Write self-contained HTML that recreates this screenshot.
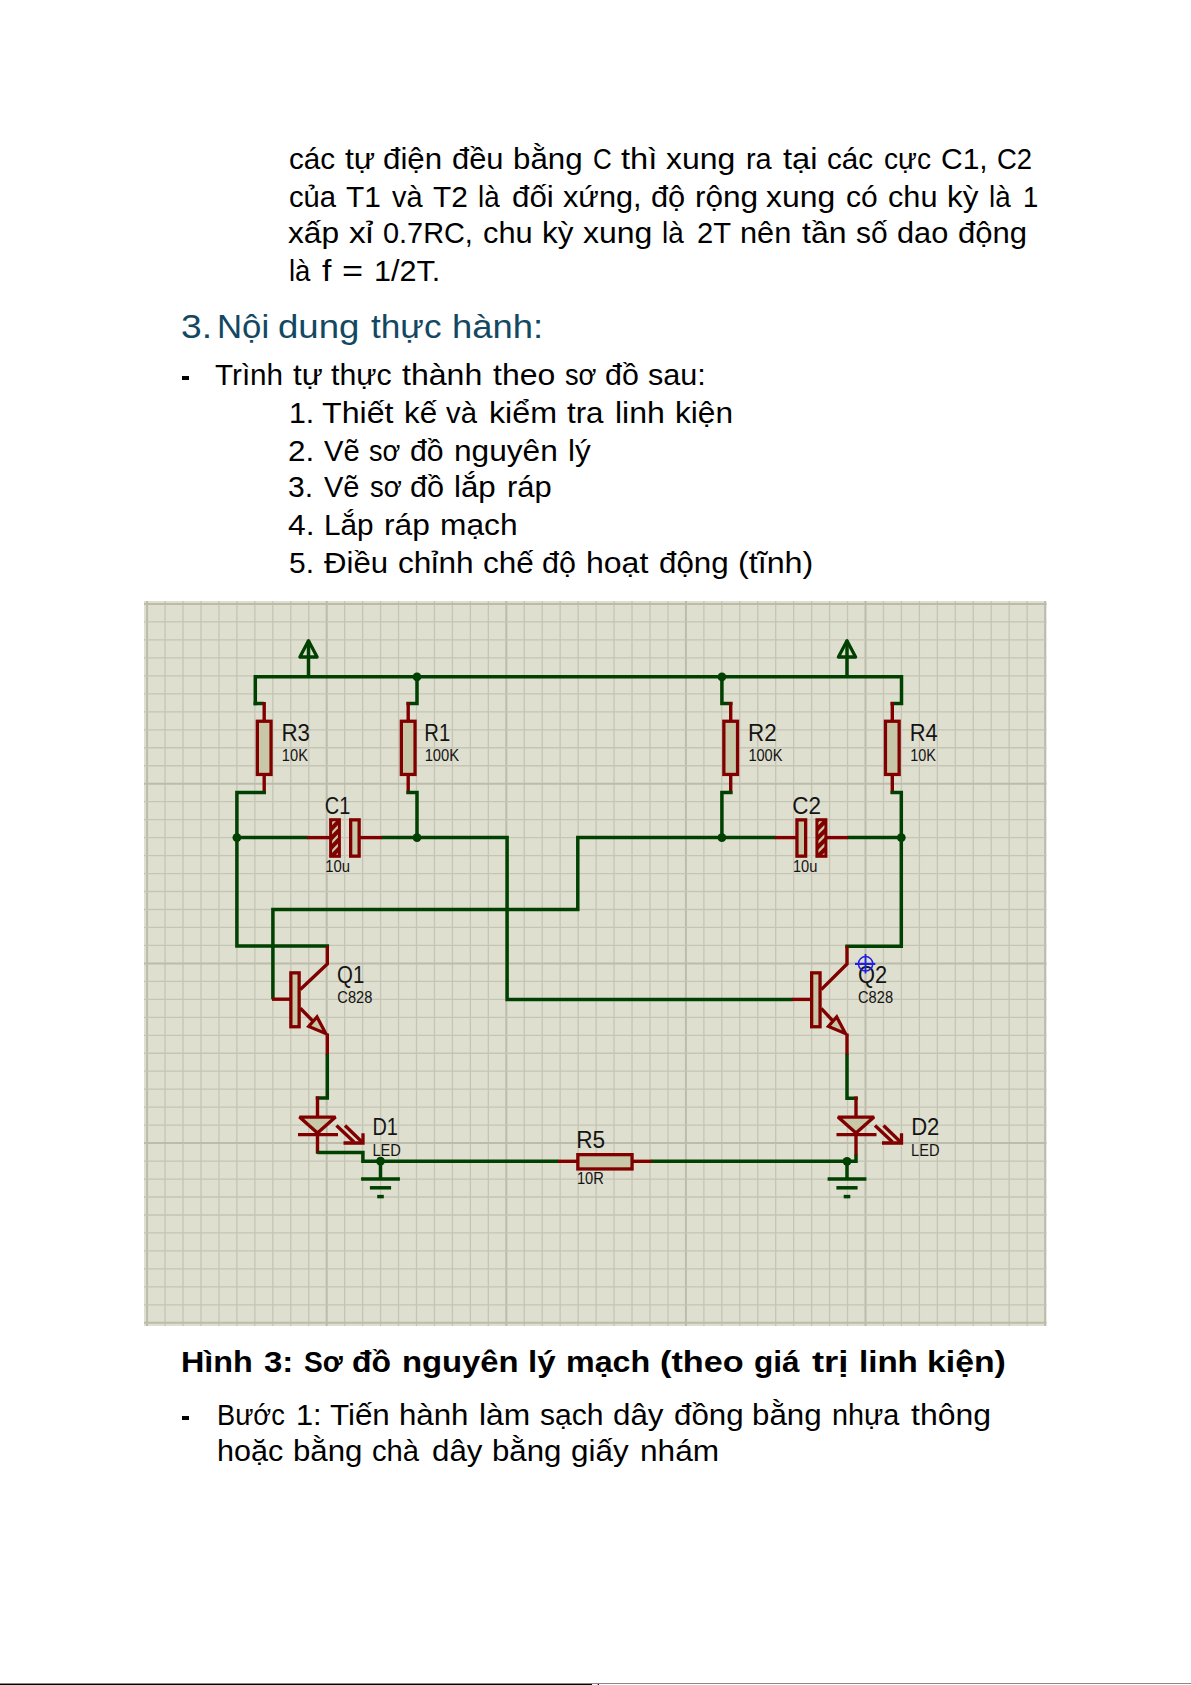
<!DOCTYPE html>
<html><head><meta charset="utf-8"><style>
html,body{margin:0;padding:0;background:#fff;}
body{width:1191px;height:1685px;position:relative;overflow:hidden;font-family:"Liberation Sans",sans-serif;}
.t{position:absolute;white-space:pre;transform-origin:0 0;}
.dash{position:absolute;background:#000;}
svg{position:absolute;left:0;top:0;}
svg text{font-family:"Liberation Sans",sans-serif;}
</style></head><body>
<svg width="1191" height="1685" viewBox="0 0 1191 1685">
<rect x="144.0" y="601.0" width="902.5" height="725.0" fill="#DFDFD0"/>
<line x1="147.10" y1="601.0" x2="147.10" y2="1326.0" stroke="#BBBCAB" stroke-width="2.0"/>
<line x1="165.06" y1="601.0" x2="165.06" y2="1326.0" stroke="#C4C5B4" stroke-width="1.3"/>
<line x1="183.02" y1="601.0" x2="183.02" y2="1326.0" stroke="#C4C5B4" stroke-width="1.3"/>
<line x1="200.98" y1="601.0" x2="200.98" y2="1326.0" stroke="#C4C5B4" stroke-width="1.3"/>
<line x1="218.94" y1="601.0" x2="218.94" y2="1326.0" stroke="#C4C5B4" stroke-width="1.3"/>
<line x1="236.90" y1="601.0" x2="236.90" y2="1326.0" stroke="#C4C5B4" stroke-width="1.3"/>
<line x1="254.86" y1="601.0" x2="254.86" y2="1326.0" stroke="#C4C5B4" stroke-width="1.3"/>
<line x1="272.82" y1="601.0" x2="272.82" y2="1326.0" stroke="#C4C5B4" stroke-width="1.3"/>
<line x1="290.78" y1="601.0" x2="290.78" y2="1326.0" stroke="#C4C5B4" stroke-width="1.3"/>
<line x1="308.74" y1="601.0" x2="308.74" y2="1326.0" stroke="#C4C5B4" stroke-width="1.3"/>
<line x1="326.70" y1="601.0" x2="326.70" y2="1326.0" stroke="#BBBCAB" stroke-width="2.0"/>
<line x1="344.66" y1="601.0" x2="344.66" y2="1326.0" stroke="#C4C5B4" stroke-width="1.3"/>
<line x1="362.62" y1="601.0" x2="362.62" y2="1326.0" stroke="#C4C5B4" stroke-width="1.3"/>
<line x1="380.58" y1="601.0" x2="380.58" y2="1326.0" stroke="#C4C5B4" stroke-width="1.3"/>
<line x1="398.54" y1="601.0" x2="398.54" y2="1326.0" stroke="#C4C5B4" stroke-width="1.3"/>
<line x1="416.50" y1="601.0" x2="416.50" y2="1326.0" stroke="#C4C5B4" stroke-width="1.3"/>
<line x1="434.46" y1="601.0" x2="434.46" y2="1326.0" stroke="#C4C5B4" stroke-width="1.3"/>
<line x1="452.42" y1="601.0" x2="452.42" y2="1326.0" stroke="#C4C5B4" stroke-width="1.3"/>
<line x1="470.38" y1="601.0" x2="470.38" y2="1326.0" stroke="#C4C5B4" stroke-width="1.3"/>
<line x1="488.34" y1="601.0" x2="488.34" y2="1326.0" stroke="#C4C5B4" stroke-width="1.3"/>
<line x1="506.30" y1="601.0" x2="506.30" y2="1326.0" stroke="#BBBCAB" stroke-width="2.0"/>
<line x1="524.26" y1="601.0" x2="524.26" y2="1326.0" stroke="#C4C5B4" stroke-width="1.3"/>
<line x1="542.22" y1="601.0" x2="542.22" y2="1326.0" stroke="#C4C5B4" stroke-width="1.3"/>
<line x1="560.18" y1="601.0" x2="560.18" y2="1326.0" stroke="#C4C5B4" stroke-width="1.3"/>
<line x1="578.14" y1="601.0" x2="578.14" y2="1326.0" stroke="#C4C5B4" stroke-width="1.3"/>
<line x1="596.10" y1="601.0" x2="596.10" y2="1326.0" stroke="#C4C5B4" stroke-width="1.3"/>
<line x1="614.06" y1="601.0" x2="614.06" y2="1326.0" stroke="#C4C5B4" stroke-width="1.3"/>
<line x1="632.02" y1="601.0" x2="632.02" y2="1326.0" stroke="#C4C5B4" stroke-width="1.3"/>
<line x1="649.98" y1="601.0" x2="649.98" y2="1326.0" stroke="#C4C5B4" stroke-width="1.3"/>
<line x1="667.94" y1="601.0" x2="667.94" y2="1326.0" stroke="#C4C5B4" stroke-width="1.3"/>
<line x1="685.90" y1="601.0" x2="685.90" y2="1326.0" stroke="#BBBCAB" stroke-width="2.0"/>
<line x1="703.86" y1="601.0" x2="703.86" y2="1326.0" stroke="#C4C5B4" stroke-width="1.3"/>
<line x1="721.82" y1="601.0" x2="721.82" y2="1326.0" stroke="#C4C5B4" stroke-width="1.3"/>
<line x1="739.78" y1="601.0" x2="739.78" y2="1326.0" stroke="#C4C5B4" stroke-width="1.3"/>
<line x1="757.74" y1="601.0" x2="757.74" y2="1326.0" stroke="#C4C5B4" stroke-width="1.3"/>
<line x1="775.70" y1="601.0" x2="775.70" y2="1326.0" stroke="#C4C5B4" stroke-width="1.3"/>
<line x1="793.66" y1="601.0" x2="793.66" y2="1326.0" stroke="#C4C5B4" stroke-width="1.3"/>
<line x1="811.62" y1="601.0" x2="811.62" y2="1326.0" stroke="#C4C5B4" stroke-width="1.3"/>
<line x1="829.58" y1="601.0" x2="829.58" y2="1326.0" stroke="#C4C5B4" stroke-width="1.3"/>
<line x1="847.54" y1="601.0" x2="847.54" y2="1326.0" stroke="#C4C5B4" stroke-width="1.3"/>
<line x1="865.50" y1="601.0" x2="865.50" y2="1326.0" stroke="#BBBCAB" stroke-width="2.0"/>
<line x1="883.46" y1="601.0" x2="883.46" y2="1326.0" stroke="#C4C5B4" stroke-width="1.3"/>
<line x1="901.42" y1="601.0" x2="901.42" y2="1326.0" stroke="#C4C5B4" stroke-width="1.3"/>
<line x1="919.38" y1="601.0" x2="919.38" y2="1326.0" stroke="#C4C5B4" stroke-width="1.3"/>
<line x1="937.34" y1="601.0" x2="937.34" y2="1326.0" stroke="#C4C5B4" stroke-width="1.3"/>
<line x1="955.30" y1="601.0" x2="955.30" y2="1326.0" stroke="#C4C5B4" stroke-width="1.3"/>
<line x1="973.26" y1="601.0" x2="973.26" y2="1326.0" stroke="#C4C5B4" stroke-width="1.3"/>
<line x1="991.22" y1="601.0" x2="991.22" y2="1326.0" stroke="#C4C5B4" stroke-width="1.3"/>
<line x1="1009.18" y1="601.0" x2="1009.18" y2="1326.0" stroke="#C4C5B4" stroke-width="1.3"/>
<line x1="1027.14" y1="601.0" x2="1027.14" y2="1326.0" stroke="#C4C5B4" stroke-width="1.3"/>
<line x1="1045.10" y1="601.0" x2="1045.10" y2="1326.0" stroke="#BBBCAB" stroke-width="2.0"/>
<line x1="144.0" y1="604.00" x2="1046.5" y2="604.00" stroke="#BBBCAB" stroke-width="2.0"/>
<line x1="144.0" y1="621.97" x2="1046.5" y2="621.97" stroke="#C4C5B4" stroke-width="1.3"/>
<line x1="144.0" y1="639.94" x2="1046.5" y2="639.94" stroke="#C4C5B4" stroke-width="1.3"/>
<line x1="144.0" y1="657.91" x2="1046.5" y2="657.91" stroke="#C4C5B4" stroke-width="1.3"/>
<line x1="144.0" y1="675.88" x2="1046.5" y2="675.88" stroke="#C4C5B4" stroke-width="1.3"/>
<line x1="144.0" y1="693.85" x2="1046.5" y2="693.85" stroke="#C4C5B4" stroke-width="1.3"/>
<line x1="144.0" y1="711.82" x2="1046.5" y2="711.82" stroke="#C4C5B4" stroke-width="1.3"/>
<line x1="144.0" y1="729.79" x2="1046.5" y2="729.79" stroke="#C4C5B4" stroke-width="1.3"/>
<line x1="144.0" y1="747.76" x2="1046.5" y2="747.76" stroke="#C4C5B4" stroke-width="1.3"/>
<line x1="144.0" y1="765.73" x2="1046.5" y2="765.73" stroke="#C4C5B4" stroke-width="1.3"/>
<line x1="144.0" y1="783.70" x2="1046.5" y2="783.70" stroke="#BBBCAB" stroke-width="2.0"/>
<line x1="144.0" y1="801.67" x2="1046.5" y2="801.67" stroke="#C4C5B4" stroke-width="1.3"/>
<line x1="144.0" y1="819.64" x2="1046.5" y2="819.64" stroke="#C4C5B4" stroke-width="1.3"/>
<line x1="144.0" y1="837.61" x2="1046.5" y2="837.61" stroke="#C4C5B4" stroke-width="1.3"/>
<line x1="144.0" y1="855.58" x2="1046.5" y2="855.58" stroke="#C4C5B4" stroke-width="1.3"/>
<line x1="144.0" y1="873.55" x2="1046.5" y2="873.55" stroke="#C4C5B4" stroke-width="1.3"/>
<line x1="144.0" y1="891.52" x2="1046.5" y2="891.52" stroke="#C4C5B4" stroke-width="1.3"/>
<line x1="144.0" y1="909.49" x2="1046.5" y2="909.49" stroke="#C4C5B4" stroke-width="1.3"/>
<line x1="144.0" y1="927.46" x2="1046.5" y2="927.46" stroke="#C4C5B4" stroke-width="1.3"/>
<line x1="144.0" y1="945.43" x2="1046.5" y2="945.43" stroke="#C4C5B4" stroke-width="1.3"/>
<line x1="144.0" y1="963.40" x2="1046.5" y2="963.40" stroke="#BBBCAB" stroke-width="2.0"/>
<line x1="144.0" y1="981.37" x2="1046.5" y2="981.37" stroke="#C4C5B4" stroke-width="1.3"/>
<line x1="144.0" y1="999.34" x2="1046.5" y2="999.34" stroke="#C4C5B4" stroke-width="1.3"/>
<line x1="144.0" y1="1017.31" x2="1046.5" y2="1017.31" stroke="#C4C5B4" stroke-width="1.3"/>
<line x1="144.0" y1="1035.28" x2="1046.5" y2="1035.28" stroke="#C4C5B4" stroke-width="1.3"/>
<line x1="144.0" y1="1053.25" x2="1046.5" y2="1053.25" stroke="#C4C5B4" stroke-width="1.3"/>
<line x1="144.0" y1="1071.22" x2="1046.5" y2="1071.22" stroke="#C4C5B4" stroke-width="1.3"/>
<line x1="144.0" y1="1089.19" x2="1046.5" y2="1089.19" stroke="#C4C5B4" stroke-width="1.3"/>
<line x1="144.0" y1="1107.16" x2="1046.5" y2="1107.16" stroke="#C4C5B4" stroke-width="1.3"/>
<line x1="144.0" y1="1125.13" x2="1046.5" y2="1125.13" stroke="#C4C5B4" stroke-width="1.3"/>
<line x1="144.0" y1="1143.10" x2="1046.5" y2="1143.10" stroke="#BBBCAB" stroke-width="2.0"/>
<line x1="144.0" y1="1161.07" x2="1046.5" y2="1161.07" stroke="#C4C5B4" stroke-width="1.3"/>
<line x1="144.0" y1="1179.04" x2="1046.5" y2="1179.04" stroke="#C4C5B4" stroke-width="1.3"/>
<line x1="144.0" y1="1197.01" x2="1046.5" y2="1197.01" stroke="#C4C5B4" stroke-width="1.3"/>
<line x1="144.0" y1="1214.98" x2="1046.5" y2="1214.98" stroke="#C4C5B4" stroke-width="1.3"/>
<line x1="144.0" y1="1232.95" x2="1046.5" y2="1232.95" stroke="#C4C5B4" stroke-width="1.3"/>
<line x1="144.0" y1="1250.92" x2="1046.5" y2="1250.92" stroke="#C4C5B4" stroke-width="1.3"/>
<line x1="144.0" y1="1268.89" x2="1046.5" y2="1268.89" stroke="#C4C5B4" stroke-width="1.3"/>
<line x1="144.0" y1="1286.86" x2="1046.5" y2="1286.86" stroke="#C4C5B4" stroke-width="1.3"/>
<line x1="144.0" y1="1304.83" x2="1046.5" y2="1304.83" stroke="#C4C5B4" stroke-width="1.3"/>
<line x1="144.0" y1="1322.80" x2="1046.5" y2="1322.80" stroke="#BBBCAB" stroke-width="2.0"/>
<polyline points="308.50,676.80 308.50,640.50" stroke="#004000" stroke-width="3.5" fill="none" stroke-linejoin="miter" stroke-linecap="butt"/>
<polygon points="299.90,657.00 317.10,657.00 308.50,640.80" stroke="#004000" stroke-width="3.3" fill="none" stroke-linejoin="round" stroke-linecap="square"/>
<polyline points="847.00,676.80 847.00,640.50" stroke="#004000" stroke-width="3.5" fill="none" stroke-linejoin="miter" stroke-linecap="butt"/>
<polygon points="838.40,657.00 855.60,657.00 847.00,640.80" stroke="#004000" stroke-width="3.3" fill="none" stroke-linejoin="round" stroke-linecap="square"/>
<polyline points="255.30,703.50 255.30,676.80 901.50,676.80 901.50,703.50 892.30,703.50" stroke="#004000" stroke-width="3.5" fill="none" stroke-linejoin="miter" stroke-linecap="square"/>
<polyline points="264.20,703.50 253.60,703.50" stroke="#004000" stroke-width="3.5" fill="none" stroke-linejoin="miter" stroke-linecap="butt"/>
<polyline points="417.00,676.80 417.00,703.50 408.20,703.50" stroke="#004000" stroke-width="3.5" fill="none" stroke-linejoin="miter" stroke-linecap="square"/>
<polyline points="721.90,676.80 721.90,703.50 730.70,703.50" stroke="#004000" stroke-width="3.5" fill="none" stroke-linejoin="miter" stroke-linecap="square"/>
<polyline points="264.20,702.00 264.20,721.00" stroke="#800000" stroke-width="3.4" fill="none" stroke-linejoin="miter" stroke-linecap="butt"/>
<polyline points="264.20,774.00 264.20,794.00" stroke="#800000" stroke-width="3.4" fill="none" stroke-linejoin="miter" stroke-linecap="butt"/>
<rect x="257.35" y="721.25" width="13.70" height="53.20" fill="#C8C8A8" stroke="#800000" stroke-width="3.3"/>
<polyline points="408.20,702.00 408.20,721.00" stroke="#800000" stroke-width="3.4" fill="none" stroke-linejoin="miter" stroke-linecap="butt"/>
<polyline points="408.20,774.00 408.20,794.00" stroke="#800000" stroke-width="3.4" fill="none" stroke-linejoin="miter" stroke-linecap="butt"/>
<rect x="401.35" y="721.25" width="13.70" height="53.20" fill="#C8C8A8" stroke="#800000" stroke-width="3.3"/>
<polyline points="730.70,702.00 730.70,721.00" stroke="#800000" stroke-width="3.4" fill="none" stroke-linejoin="miter" stroke-linecap="butt"/>
<polyline points="730.70,774.00 730.70,794.00" stroke="#800000" stroke-width="3.4" fill="none" stroke-linejoin="miter" stroke-linecap="butt"/>
<rect x="723.85" y="721.25" width="13.70" height="53.20" fill="#C8C8A8" stroke="#800000" stroke-width="3.3"/>
<polyline points="892.30,702.00 892.30,721.00" stroke="#800000" stroke-width="3.4" fill="none" stroke-linejoin="miter" stroke-linecap="butt"/>
<polyline points="892.30,774.00 892.30,794.00" stroke="#800000" stroke-width="3.4" fill="none" stroke-linejoin="miter" stroke-linecap="butt"/>
<rect x="885.45" y="721.25" width="13.70" height="53.20" fill="#C8C8A8" stroke="#800000" stroke-width="3.3"/>
<polyline points="264.20,792.50 236.90,792.50 236.90,946.00 327.30,946.00" stroke="#004000" stroke-width="3.5" fill="none" stroke-linejoin="miter" stroke-linecap="square"/>
<polyline points="408.20,792.50 417.00,792.50 417.00,837.60" stroke="#004000" stroke-width="3.5" fill="none" stroke-linejoin="miter" stroke-linecap="square"/>
<polyline points="730.70,792.50 721.90,792.50 721.90,837.60" stroke="#004000" stroke-width="3.5" fill="none" stroke-linejoin="miter" stroke-linecap="square"/>
<polyline points="892.30,792.50 901.30,792.50 901.30,946.30 847.00,946.30" stroke="#004000" stroke-width="3.5" fill="none" stroke-linejoin="miter" stroke-linecap="square"/>
<polyline points="236.90,837.60 307.50,837.60" stroke="#004000" stroke-width="3.5" fill="none" stroke-linejoin="miter" stroke-linecap="butt"/>
<polyline points="381.50,837.60 507.10,837.60 507.10,999.40 792.50,999.40" stroke="#004000" stroke-width="3.5" fill="none" stroke-linejoin="miter" stroke-linecap="butt"/>
<polyline points="775.50,837.60 577.80,837.60 577.80,909.50 272.90,909.50 272.90,999.20" stroke="#004000" stroke-width="3.5" fill="none" stroke-linejoin="miter" stroke-linecap="butt"/>
<polyline points="847.50,837.60 901.30,837.60" stroke="#004000" stroke-width="3.5" fill="none" stroke-linejoin="miter" stroke-linecap="butt"/>
<polyline points="307.00,837.60 330.00,837.60" stroke="#800000" stroke-width="3.4" fill="none" stroke-linejoin="miter" stroke-linecap="butt"/>
<polyline points="360.00,837.60 382.00,837.60" stroke="#800000" stroke-width="3.4" fill="none" stroke-linejoin="miter" stroke-linecap="butt"/>
<polyline points="774.90,837.60 796.00,837.60" stroke="#800000" stroke-width="3.4" fill="none" stroke-linejoin="miter" stroke-linecap="butt"/>
<polyline points="827.00,837.60 848.00,837.60" stroke="#800000" stroke-width="3.4" fill="none" stroke-linejoin="miter" stroke-linecap="butt"/>
<rect x="329.10" y="818.20" width="11.80" height="39.60" fill="#800000"/>
<clipPath id="clip126"><rect x="332.10" y="821.30" width="5.80" height="33.40"/></clipPath>
<g clip-path="url(#clip126)" stroke="#C8C8A8" stroke-width="2.3"><line x1="331.10" y1="824.55" x2="338.90" y2="816.35"/><line x1="331.10" y1="833.80" x2="338.90" y2="825.60"/><line x1="331.10" y1="843.05" x2="338.90" y2="834.85"/><line x1="331.10" y1="852.30" x2="338.90" y2="844.10"/><line x1="331.10" y1="861.55" x2="338.90" y2="853.35"/><line x1="331.10" y1="870.80" x2="338.90" y2="862.60"/></g>
<rect x="350.65" y="819.85" width="8.50" height="36.30" fill="#C8C8A8" stroke="#800000" stroke-width="3.3"/>
<rect x="796.95" y="819.85" width="8.70" height="36.30" fill="#C8C8A8" stroke="#800000" stroke-width="3.3"/>
<rect x="815.40" y="818.20" width="12.00" height="39.60" fill="#800000"/>
<clipPath id="clip131"><rect x="818.40" y="821.30" width="6.00" height="33.40"/></clipPath>
<g clip-path="url(#clip131)" stroke="#C8C8A8" stroke-width="2.3"><line x1="817.40" y1="824.55" x2="825.40" y2="816.35"/><line x1="817.40" y1="833.80" x2="825.40" y2="825.60"/><line x1="817.40" y1="843.05" x2="825.40" y2="834.85"/><line x1="817.40" y1="852.30" x2="825.40" y2="844.10"/><line x1="817.40" y1="861.55" x2="825.40" y2="853.35"/><line x1="817.40" y1="870.80" x2="825.40" y2="862.60"/></g>
<circle cx="417.00" cy="676.80" r="4.4" fill="#004000"/>
<circle cx="721.90" cy="676.80" r="4.4" fill="#004000"/>
<circle cx="236.90" cy="837.60" r="4.4" fill="#004000"/>
<circle cx="417.00" cy="837.60" r="4.4" fill="#004000"/>
<circle cx="721.90" cy="837.60" r="4.4" fill="#004000"/>
<circle cx="901.30" cy="837.60" r="4.4" fill="#004000"/>
<circle cx="380.50" cy="1161.20" r="4.4" fill="#004000"/>
<circle cx="847.00" cy="1161.30" r="4.4" fill="#004000"/>
<polyline points="327.30,946.00 327.30,964.00 300.30,989.60" stroke="#800000" stroke-width="3.4" fill="none" stroke-linejoin="miter" stroke-linecap="butt"/>
<rect x="290.85" y="972.85" width="8.30" height="53.90" fill="#C8C8A8" stroke="#800000" stroke-width="3.3"/>
<polyline points="300.30,1008.30 319.30,1027.60" stroke="#800000" stroke-width="3.4" fill="none" stroke-linejoin="miter" stroke-linecap="butt"/>
<polygon points="325.70,1033.40 308.70,1026.40 317.00,1016.90" fill="#C8C8A8" stroke="#800000" stroke-width="3.2" stroke-linejoin="miter"/>
<polyline points="327.30,1033.50 327.30,1055.00" stroke="#800000" stroke-width="3.4" fill="none" stroke-linejoin="miter" stroke-linecap="butt"/>
<polyline points="847.00,946.00 847.00,964.00 821.20,989.60" stroke="#800000" stroke-width="3.4" fill="none" stroke-linejoin="miter" stroke-linecap="butt"/>
<rect x="811.65" y="972.85" width="8.40" height="53.90" fill="#C8C8A8" stroke="#800000" stroke-width="3.3"/>
<polyline points="821.20,1008.30 839.00,1027.60" stroke="#800000" stroke-width="3.4" fill="none" stroke-linejoin="miter" stroke-linecap="butt"/>
<polygon points="845.40,1033.40 828.40,1026.40 836.70,1016.90" fill="#C8C8A8" stroke="#800000" stroke-width="3.2" stroke-linejoin="miter"/>
<polyline points="847.00,1033.50 847.00,1055.00" stroke="#800000" stroke-width="3.4" fill="none" stroke-linejoin="miter" stroke-linecap="butt"/>
<polyline points="272.00,999.20 290.00,999.20" stroke="#800000" stroke-width="3.4" fill="none" stroke-linejoin="miter" stroke-linecap="butt"/>
<polyline points="791.80,999.40 810.50,999.40" stroke="#800000" stroke-width="3.4" fill="none" stroke-linejoin="miter" stroke-linecap="butt"/>
<polyline points="327.30,1056.00 327.30,1098.10 317.50,1098.10" stroke="#004000" stroke-width="3.5" fill="none" stroke-linejoin="miter" stroke-linecap="square"/>
<polyline points="847.00,1056.00 847.00,1098.30 856.00,1098.30" stroke="#004000" stroke-width="3.5" fill="none" stroke-linejoin="miter" stroke-linecap="square"/>
<polyline points="317.50,1096.50 317.50,1117.00" stroke="#800000" stroke-width="3.4" fill="none" stroke-linejoin="miter" stroke-linecap="butt"/>
<polygon points="299.50,1117.1 335.50,1117.1 317.50,1133.0" fill="#C8C8A8" stroke="#800000" stroke-width="3.4" stroke-linejoin="bevel"/>
<polyline points="298.00,1134.70 338.00,1134.70" stroke="#800000" stroke-width="3.3" fill="none" stroke-linejoin="miter" stroke-linecap="butt"/>
<polyline points="317.50,1134.00 317.50,1153.80" stroke="#800000" stroke-width="3.4" fill="none" stroke-linejoin="miter" stroke-linecap="butt"/>
<polyline points="336.50,1125.60 354.00,1142.00" stroke="#800000" stroke-width="3.4" fill="none" stroke-linejoin="miter" stroke-linecap="butt"/>
<polyline points="345.00,1125.60 361.50,1141.40" stroke="#800000" stroke-width="3.4" fill="none" stroke-linejoin="miter" stroke-linecap="butt"/>
<polyline points="343.50,1143.00 363.00,1143.00 363.00,1133.30" stroke="#800000" stroke-width="3.3" fill="none" stroke-linejoin="miter" stroke-linecap="butt"/>
<polyline points="856.00,1096.50 856.00,1117.00" stroke="#800000" stroke-width="3.4" fill="none" stroke-linejoin="miter" stroke-linecap="butt"/>
<polygon points="838.00,1117.1 874.00,1117.1 856.00,1133.0" fill="#C8C8A8" stroke="#800000" stroke-width="3.4" stroke-linejoin="bevel"/>
<polyline points="836.50,1134.70 876.50,1134.70" stroke="#800000" stroke-width="3.3" fill="none" stroke-linejoin="miter" stroke-linecap="butt"/>
<polyline points="856.00,1134.00 856.00,1155.50" stroke="#800000" stroke-width="3.4" fill="none" stroke-linejoin="miter" stroke-linecap="butt"/>
<polyline points="875.00,1125.60 892.50,1142.00" stroke="#800000" stroke-width="3.4" fill="none" stroke-linejoin="miter" stroke-linecap="butt"/>
<polyline points="883.50,1125.60 900.00,1141.40" stroke="#800000" stroke-width="3.4" fill="none" stroke-linejoin="miter" stroke-linecap="butt"/>
<polyline points="882.00,1143.00 901.50,1143.00 901.50,1133.30" stroke="#800000" stroke-width="3.3" fill="none" stroke-linejoin="miter" stroke-linecap="butt"/>
<polyline points="317.50,1152.50 362.90,1152.50 362.90,1161.20 558.50,1161.20" stroke="#004000" stroke-width="3.5" fill="none" stroke-linejoin="miter" stroke-linecap="butt"/>
<polyline points="651.00,1161.30 847.00,1161.30 856.00,1161.30 856.00,1154.80" stroke="#004000" stroke-width="3.5" fill="none" stroke-linejoin="miter" stroke-linecap="butt"/>
<polyline points="380.50,1161.20 380.50,1179.00" stroke="#004000" stroke-width="3.5" fill="none" stroke-linejoin="miter" stroke-linecap="butt"/>
<polyline points="361.10,1179.00 399.90,1179.00" stroke="#004000" stroke-width="3.5" fill="none" stroke-linejoin="miter" stroke-linecap="butt"/>
<polyline points="369.90,1187.80 391.10,1187.80" stroke="#004000" stroke-width="3.5" fill="none" stroke-linejoin="miter" stroke-linecap="butt"/>
<polyline points="377.20,1196.60 383.80,1196.60" stroke="#004000" stroke-width="3.5" fill="none" stroke-linejoin="miter" stroke-linecap="butt"/>
<polyline points="847.00,1161.20 847.00,1179.00" stroke="#004000" stroke-width="3.5" fill="none" stroke-linejoin="miter" stroke-linecap="butt"/>
<polyline points="827.60,1179.00 866.40,1179.00" stroke="#004000" stroke-width="3.5" fill="none" stroke-linejoin="miter" stroke-linecap="butt"/>
<polyline points="836.40,1187.80 857.60,1187.80" stroke="#004000" stroke-width="3.5" fill="none" stroke-linejoin="miter" stroke-linecap="butt"/>
<polyline points="843.70,1196.60 850.30,1196.60" stroke="#004000" stroke-width="3.5" fill="none" stroke-linejoin="miter" stroke-linecap="butt"/>
<polyline points="558.00,1161.30 578.00,1161.30" stroke="#800000" stroke-width="3.4" fill="none" stroke-linejoin="miter" stroke-linecap="butt"/>
<polyline points="632.00,1161.30 651.50,1161.30" stroke="#800000" stroke-width="3.4" fill="none" stroke-linejoin="miter" stroke-linecap="butt"/>
<rect x="577.85" y="1154.65" width="54.20" height="14.30" fill="#C8C8A8" stroke="#800000" stroke-width="3.3"/>
<text transform="translate(281.50,740.70) scale(0.9289,1)" font-size="23.98" fill="#141414">R3</text>
<text transform="translate(281.87,760.50) scale(0.8986,1)" font-size="16.28" fill="#141414">10K</text>
<text transform="translate(424.37,740.70) scale(0.8423,1)" font-size="23.98" fill="#141414">R1</text>
<text transform="translate(424.66,760.50) scale(0.9080,1)" font-size="16.28" fill="#141414">100K</text>
<text transform="translate(748.10,740.70) scale(0.9316,1)" font-size="23.98" fill="#141414">R2</text>
<text transform="translate(748.38,760.50) scale(0.8970,1)" font-size="16.28" fill="#141414">100K</text>
<text transform="translate(909.74,740.70) scale(0.9114,1)" font-size="23.98" fill="#141414">R4</text>
<text transform="translate(910.19,760.50) scale(0.8877,1)" font-size="16.28" fill="#141414">10K</text>
<text transform="translate(324.86,813.50) scale(0.8325,1)" font-size="23.98" fill="#141414">C1</text>
<text transform="translate(325.30,871.50) scale(0.9296,1)" font-size="15.99" fill="#141414">10u</text>
<text transform="translate(792.33,813.50) scale(0.9373,1)" font-size="23.98" fill="#141414">C2</text>
<text transform="translate(792.91,871.50) scale(0.9173,1)" font-size="15.99" fill="#141414">10u</text>
<text transform="translate(337.12,983.00) scale(0.8733,1)" font-size="23.40" fill="#141414">Q1</text>
<text transform="translate(337.36,1003.10) scale(0.9076,1)" font-size="16.13" fill="#141414">C828</text>
<text transform="translate(857.95,983.00) scale(0.9340,1)" font-size="23.40" fill="#141414">Q2</text>
<text transform="translate(858.06,1003.10) scale(0.9076,1)" font-size="16.13" fill="#141414">C828</text>
<text transform="translate(372.54,1135.00) scale(0.8541,1)" font-size="23.26" fill="#141414">D1</text>
<text transform="translate(372.39,1156.00) scale(0.9194,1)" font-size="15.99" fill="#141414">LED</text>
<text transform="translate(911.16,1135.00) scale(0.9500,1)" font-size="23.26" fill="#141414">D2</text>
<text transform="translate(911.00,1156.00) scale(0.9159,1)" font-size="15.99" fill="#141414">LED</text>
<text transform="translate(576.16,1147.50) scale(0.9481,1)" font-size="23.84" fill="#141414">R5</text>
<text transform="translate(576.89,1183.80) scale(0.9355,1)" font-size="15.70" fill="#141414">10R</text>
<g stroke="#2020E0" fill="none"><circle cx="865.6" cy="963.8" r="7.2" stroke-width="1.5"/><line x1="855.0" y1="963.9" x2="875.3" y2="963.9" stroke-width="2.2"/><line x1="865.5" y1="954.0" x2="865.5" y2="973.5" stroke-width="1.8"/></g>
</svg>
<div class="t" style="left:288.60px;top:142.75px;font-size:29px;line-height:32.40px;color:#000;transform:scaleX(1.0218)">các</div>
<div class="t" style="left:345.29px;top:142.75px;font-size:29px;line-height:32.40px;color:#000;transform:scaleX(1.0989)">tự</div>
<div class="t" style="left:382.63px;top:142.75px;font-size:29px;line-height:32.40px;color:#000;transform:scaleX(1.0792)">điện</div>
<div class="t" style="left:452.29px;top:142.75px;font-size:29px;line-height:32.40px;color:#000;transform:scaleX(1.0641)">đều</div>
<div class="t" style="left:513.44px;top:142.75px;font-size:29px;line-height:32.40px;color:#000;transform:scaleX(1.0779)">bằng</div>
<div class="t" style="left:593.37px;top:142.75px;font-size:29px;line-height:32.40px;color:#000;transform:scaleX(0.8961)">C</div>
<div class="t" style="left:621.42px;top:142.75px;font-size:29px;line-height:32.40px;color:#000;transform:scaleX(1.1227)">thì</div>
<div class="t" style="left:666.01px;top:142.75px;font-size:29px;line-height:32.40px;color:#000;transform:scaleX(1.1009)">xung</div>
<div class="t" style="left:745.85px;top:142.75px;font-size:29px;line-height:32.40px;color:#000;transform:scaleX(0.9966)">ra</div>
<div class="t" style="left:783.10px;top:142.75px;font-size:29px;line-height:32.40px;color:#000;transform:scaleX(1.1261)">tại</div>
<div class="t" style="left:827.46px;top:142.75px;font-size:29px;line-height:32.40px;color:#000;transform:scaleX(1.0218)">các</div>
<div class="t" style="left:884.42px;top:142.75px;font-size:29px;line-height:32.40px;color:#000;transform:scaleX(0.9701)">cực</div>
<div class="t" style="left:941.10px;top:142.75px;font-size:29px;line-height:32.40px;color:#000;transform:scaleX(1.0349)">C1,</div>
<div class="t" style="left:997.36px;top:142.75px;font-size:29px;line-height:32.40px;color:#000;transform:scaleX(0.9472)">C2</div>
<div class="t" style="left:288.62px;top:180.75px;font-size:29px;line-height:32.40px;color:#000;transform:scaleX(1.0065)">của</div>
<div class="t" style="left:346.00px;top:180.75px;font-size:29px;line-height:32.40px;color:#000;transform:scaleX(1.0299)">T1</div>
<div class="t" style="left:391.58px;top:180.75px;font-size:29px;line-height:32.40px;color:#000;transform:scaleX(0.9973)">và</div>
<div class="t" style="left:432.60px;top:180.75px;font-size:29px;line-height:32.40px;color:#000;transform:scaleX(1.0292)">T2</div>
<div class="t" style="left:477.78px;top:180.75px;font-size:29px;line-height:32.40px;color:#000;transform:scaleX(0.9553)">là</div>
<div class="t" style="left:511.71px;top:180.75px;font-size:29px;line-height:32.40px;color:#000;transform:scaleX(1.0788)">đối</div>
<div class="t" style="left:562.71px;top:180.75px;font-size:29px;line-height:32.40px;color:#000;transform:scaleX(1.0579)">xứng,</div>
<div class="t" style="left:650.93px;top:180.75px;font-size:29px;line-height:32.40px;color:#000;transform:scaleX(1.0614)">độ</div>
<div class="t" style="left:694.62px;top:180.75px;font-size:29px;line-height:32.40px;color:#000;transform:scaleX(1.0883)">rộng</div>
<div class="t" style="left:766.26px;top:180.75px;font-size:29px;line-height:32.40px;color:#000;transform:scaleX(1.1000)">xung</div>
<div class="t" style="left:845.88px;top:180.75px;font-size:29px;line-height:32.40px;color:#000;transform:scaleX(1.0352)">có</div>
<div class="t" style="left:887.57px;top:180.75px;font-size:29px;line-height:32.40px;color:#000;transform:scaleX(1.0578)">chu</div>
<div class="t" style="left:947.19px;top:180.75px;font-size:29px;line-height:32.40px;color:#000;transform:scaleX(1.0807)">kỳ</div>
<div class="t" style="left:988.53px;top:180.75px;font-size:29px;line-height:32.40px;color:#000;transform:scaleX(0.9553)">là</div>
<div class="t" style="left:1023.21px;top:180.75px;font-size:29px;line-height:32.40px;color:#000;transform:scaleX(0.9459)">1</div>
<div class="t" style="left:287.88px;top:217.25px;font-size:29px;line-height:32.40px;color:#000;transform:scaleX(1.0941)">xấp</div>
<div class="t" style="left:348.55px;top:217.25px;font-size:29px;line-height:32.40px;color:#000;transform:scaleX(1.1557)">xỉ</div>
<div class="t" style="left:382.79px;top:217.25px;font-size:29px;line-height:32.40px;color:#000;transform:scaleX(0.9960)">0.7RC,</div>
<div class="t" style="left:482.60px;top:217.25px;font-size:29px;line-height:32.40px;color:#000;transform:scaleX(1.0606)">chu</div>
<div class="t" style="left:541.68px;top:217.25px;font-size:29px;line-height:32.40px;color:#000;transform:scaleX(1.0835)">kỳ</div>
<div class="t" style="left:582.53px;top:217.25px;font-size:29px;line-height:32.40px;color:#000;transform:scaleX(1.1029)">xung</div>
<div class="t" style="left:662.36px;top:217.25px;font-size:29px;line-height:32.40px;color:#000;transform:scaleX(0.9578)">là</div>
<div class="t" style="left:696.71px;top:217.25px;font-size:29px;line-height:32.40px;color:#000;transform:scaleX(1.0052)">2T</div>
<div class="t" style="left:739.62px;top:217.25px;font-size:29px;line-height:32.40px;color:#000;transform:scaleX(1.0597)">nên</div>
<div class="t" style="left:801.92px;top:217.25px;font-size:29px;line-height:32.40px;color:#000;transform:scaleX(1.1020)">tần</div>
<div class="t" style="left:856.41px;top:217.25px;font-size:29px;line-height:32.40px;color:#000;transform:scaleX(1.0334)">số</div>
<div class="t" style="left:897.09px;top:217.25px;font-size:29px;line-height:32.40px;color:#000;transform:scaleX(1.0592)">dao</div>
<div class="t" style="left:957.82px;top:217.25px;font-size:29px;line-height:32.40px;color:#000;transform:scaleX(1.0692)">động</div>
<div class="t" style="left:288.79px;top:255.25px;font-size:29px;line-height:32.40px;color:#000;transform:scaleX(0.9478)">là</div>
<div class="t" style="left:322.41px;top:255.25px;font-size:29px;line-height:32.40px;color:#000;transform:scaleX(1.1684)">f</div>
<div class="t" style="left:341.54px;top:255.25px;font-size:29px;line-height:32.40px;color:#000;transform:scaleX(1.2455)">=</div>
<div class="t" style="left:373.76px;top:255.25px;font-size:29px;line-height:32.40px;color:#000;transform:scaleX(1.0526)">1/2T.</div>
<div class="t" style="left:180.71px;top:308.17px;font-size:33.5px;line-height:37.43px;color:#134863;transform:scaleX(1.1102)">3.</div>
<div class="t" style="left:216.60px;top:307.67px;font-size:33.5px;line-height:37.43px;color:#134863;transform:scaleX(1.0368)">Nội</div>
<div class="t" style="left:278.35px;top:307.67px;font-size:33.5px;line-height:37.43px;color:#134863;transform:scaleX(1.0919)">dung</div>
<div class="t" style="left:370.73px;top:307.67px;font-size:33.5px;line-height:37.43px;color:#134863;transform:scaleX(1.0503)">thực</div>
<div class="t" style="left:451.68px;top:307.67px;font-size:33.5px;line-height:37.43px;color:#134863;transform:scaleX(1.0869)">hành:</div>
<div class="t" style="left:215.36px;top:359.25px;font-size:29px;line-height:32.40px;color:#000;transform:scaleX(1.0223)">Trình</div>
<div class="t" style="left:293.31px;top:359.25px;font-size:29px;line-height:32.40px;color:#000;transform:scaleX(1.0819)">tự</div>
<div class="t" style="left:331.47px;top:359.25px;font-size:29px;line-height:32.40px;color:#000;transform:scaleX(1.0428)">thực</div>
<div class="t" style="left:401.85px;top:359.25px;font-size:29px;line-height:32.40px;color:#000;transform:scaleX(1.1067)">thành</div>
<div class="t" style="left:492.58px;top:359.25px;font-size:29px;line-height:32.40px;color:#000;transform:scaleX(1.1026)">theo</div>
<div class="t" style="left:564.62px;top:359.25px;font-size:29px;line-height:32.40px;color:#000;transform:scaleX(0.9393)">sơ</div>
<div class="t" style="left:604.80px;top:359.25px;font-size:29px;line-height:32.40px;color:#000;transform:scaleX(1.0473)">đồ</div>
<div class="t" style="left:648.40px;top:359.25px;font-size:29px;line-height:32.40px;color:#000;transform:scaleX(1.0551)">sau:</div>
<div class="t" style="left:288.64px;top:396.75px;font-size:29px;line-height:32.40px;color:#000;transform:scaleX(1.0452)">1.</div>
<div class="t" style="left:322.15px;top:396.75px;font-size:29px;line-height:32.40px;color:#000;transform:scaleX(1.1090)">Thiết</div>
<div class="t" style="left:403.83px;top:396.75px;font-size:29px;line-height:32.40px;color:#000;transform:scaleX(1.0800)">kế</div>
<div class="t" style="left:446.42px;top:396.75px;font-size:29px;line-height:32.40px;color:#000;transform:scaleX(1.0089)">và</div>
<div class="t" style="left:488.55px;top:396.75px;font-size:29px;line-height:32.40px;color:#000;transform:scaleX(1.1099)">kiểm</div>
<div class="t" style="left:566.75px;top:396.75px;font-size:29px;line-height:32.40px;color:#000;transform:scaleX(1.0795)">tra</div>
<div class="t" style="left:615.00px;top:396.75px;font-size:29px;line-height:32.40px;color:#000;transform:scaleX(1.1041)">linh</div>
<div class="t" style="left:675.49px;top:396.75px;font-size:29px;line-height:32.40px;color:#000;transform:scaleX(1.0911)">kiện</div>
<div class="t" style="left:287.68px;top:434.75px;font-size:29px;line-height:32.40px;color:#000;transform:scaleX(1.0843)">2.</div>
<div class="t" style="left:323.69px;top:434.75px;font-size:29px;line-height:32.40px;color:#000;transform:scaleX(1.0058)">Vẽ</div>
<div class="t" style="left:368.99px;top:434.75px;font-size:29px;line-height:32.40px;color:#000;transform:scaleX(0.9347)">sơ</div>
<div class="t" style="left:409.67px;top:434.75px;font-size:29px;line-height:32.40px;color:#000;transform:scaleX(1.0422)">đồ</div>
<div class="t" style="left:453.52px;top:434.75px;font-size:29px;line-height:32.40px;color:#000;transform:scaleX(1.0911)">nguyên</div>
<div class="t" style="left:567.52px;top:434.75px;font-size:29px;line-height:32.40px;color:#000;transform:scaleX(1.0863)">lý</div>
<div class="t" style="left:288.46px;top:470.75px;font-size:29px;line-height:32.40px;color:#000;transform:scaleX(1.0366)">3.</div>
<div class="t" style="left:323.61px;top:470.75px;font-size:29px;line-height:32.40px;color:#000;transform:scaleX(0.9996)">Vẽ</div>
<div class="t" style="left:369.55px;top:470.75px;font-size:29px;line-height:32.40px;color:#000;transform:scaleX(0.9480)">sơ</div>
<div class="t" style="left:410.11px;top:470.75px;font-size:29px;line-height:32.40px;color:#000;transform:scaleX(1.0570)">đồ</div>
<div class="t" style="left:454.41px;top:470.75px;font-size:29px;line-height:32.40px;color:#000;transform:scaleX(1.0787)">lắp</div>
<div class="t" style="left:507.25px;top:470.75px;font-size:29px;line-height:32.40px;color:#000;transform:scaleX(1.0660)">ráp</div>
<div class="t" style="left:288.30px;top:508.75px;font-size:29px;line-height:32.40px;color:#000;transform:scaleX(1.0950)">4.</div>
<div class="t" style="left:324.44px;top:508.75px;font-size:29px;line-height:32.40px;color:#000;transform:scaleX(1.0238)">Lắp</div>
<div class="t" style="left:383.66px;top:508.75px;font-size:29px;line-height:32.40px;color:#000;transform:scaleX(1.0926)">ráp</div>
<div class="t" style="left:439.80px;top:508.75px;font-size:29px;line-height:32.40px;color:#000;transform:scaleX(1.0932)">mạch</div>
<div class="t" style="left:288.77px;top:546.75px;font-size:29px;line-height:32.40px;color:#000;transform:scaleX(1.0340)">5.</div>
<div class="t" style="left:323.95px;top:546.75px;font-size:29px;line-height:32.40px;color:#000;transform:scaleX(1.0729)">Điều</div>
<div class="t" style="left:397.62px;top:546.75px;font-size:29px;line-height:32.40px;color:#000;transform:scaleX(1.0892)">chỉnh</div>
<div class="t" style="left:483.09px;top:546.75px;font-size:29px;line-height:32.40px;color:#000;transform:scaleX(1.0850)">chế</div>
<div class="t" style="left:542.28px;top:546.75px;font-size:29px;line-height:32.40px;color:#000;transform:scaleX(1.0512)">độ</div>
<div class="t" style="left:586.43px;top:546.75px;font-size:29px;line-height:32.40px;color:#000;transform:scaleX(1.1035)">hoạt</div>
<div class="t" style="left:658.80px;top:546.75px;font-size:29px;line-height:32.40px;color:#000;transform:scaleX(1.0799)">động</div>
<div class="t" style="left:737.85px;top:546.75px;font-size:29px;line-height:32.40px;color:#000;transform:scaleX(1.1126)">(tĩnh)</div>
<div class="t" style="left:180.72px;top:1346.25px;font-size:29px;line-height:32.40px;font-weight:bold;color:#000;transform:scaleX(1.1140)">Hình</div>
<div class="t" style="left:263.63px;top:1346.25px;font-size:29px;line-height:32.40px;font-weight:bold;color:#000;transform:scaleX(1.1372)">3:</div>
<div class="t" style="left:304.10px;top:1346.25px;font-size:29px;line-height:32.40px;font-weight:bold;color:#000;transform:scaleX(0.9697)">Sơ</div>
<div class="t" style="left:352.26px;top:1346.25px;font-size:29px;line-height:32.40px;font-weight:bold;color:#000;transform:scaleX(1.1004)">đồ</div>
<div class="t" style="left:401.57px;top:1346.25px;font-size:29px;line-height:32.40px;font-weight:bold;color:#000;transform:scaleX(1.1305)">nguyên</div>
<div class="t" style="left:528.08px;top:1346.25px;font-size:29px;line-height:32.40px;font-weight:bold;color:#000;transform:scaleX(1.1396)">lý</div>
<div class="t" style="left:565.94px;top:1346.25px;font-size:29px;line-height:32.40px;font-weight:bold;color:#000;transform:scaleX(1.1113)">mạch</div>
<div class="t" style="left:660.21px;top:1346.25px;font-size:29px;line-height:32.40px;font-weight:bold;color:#000;transform:scaleX(1.1801)">(theo</div>
<div class="t" style="left:753.81px;top:1346.25px;font-size:29px;line-height:32.40px;font-weight:bold;color:#000;transform:scaleX(1.0882)">giá</div>
<div class="t" style="left:812.25px;top:1346.25px;font-size:29px;line-height:32.40px;font-weight:bold;color:#000;transform:scaleX(1.2554)">trị</div>
<div class="t" style="left:858.72px;top:1346.25px;font-size:29px;line-height:32.40px;font-weight:bold;color:#000;transform:scaleX(1.1415)">linh</div>
<div class="t" style="left:927.39px;top:1346.25px;font-size:29px;line-height:32.40px;font-weight:bold;color:#000;transform:scaleX(1.1646)">kiện)</div>
<div class="t" style="left:216.77px;top:1399.25px;font-size:29px;line-height:32.40px;color:#000;transform:scaleX(0.9372)">Bước</div>
<div class="t" style="left:295.67px;top:1399.25px;font-size:29px;line-height:32.40px;color:#000;transform:scaleX(1.0591)">1:</div>
<div class="t" style="left:329.52px;top:1399.25px;font-size:29px;line-height:32.40px;color:#000;transform:scaleX(1.0805)">Tiến</div>
<div class="t" style="left:398.93px;top:1399.25px;font-size:29px;line-height:32.40px;color:#000;transform:scaleX(1.0772)">hành</div>
<div class="t" style="left:478.62px;top:1399.25px;font-size:29px;line-height:32.40px;color:#000;transform:scaleX(1.0935)">làm</div>
<div class="t" style="left:539.63px;top:1399.25px;font-size:29px;line-height:32.40px;color:#000;transform:scaleX(1.0365)">sạch</div>
<div class="t" style="left:613.08px;top:1399.25px;font-size:29px;line-height:32.40px;color:#000;transform:scaleX(1.0801)">dây</div>
<div class="t" style="left:673.72px;top:1399.25px;font-size:29px;line-height:32.40px;color:#000;transform:scaleX(1.0793)">đồng</div>
<div class="t" style="left:752.34px;top:1399.25px;font-size:29px;line-height:32.40px;color:#000;transform:scaleX(1.0786)">bằng</div>
<div class="t" style="left:831.83px;top:1399.25px;font-size:29px;line-height:32.40px;color:#000;transform:scaleX(0.9911)">nhựa</div>
<div class="t" style="left:911.35px;top:1399.25px;font-size:29px;line-height:32.40px;color:#000;transform:scaleX(1.1016)">thông</div>
<div class="t" style="left:216.89px;top:1434.75px;font-size:29px;line-height:32.40px;color:#000;transform:scaleX(1.0529)">hoặc</div>
<div class="t" style="left:293.10px;top:1434.75px;font-size:29px;line-height:32.40px;color:#000;transform:scaleX(1.0760)">bằng</div>
<div class="t" style="left:372.28px;top:1434.75px;font-size:29px;line-height:32.40px;color:#000;transform:scaleX(1.0055)">chà</div>
<div class="t" style="left:431.67px;top:1434.75px;font-size:29px;line-height:32.40px;color:#000;transform:scaleX(1.0775)">dây</div>
<div class="t" style="left:491.50px;top:1434.75px;font-size:29px;line-height:32.40px;color:#000;transform:scaleX(1.0760)">bằng</div>
<div class="t" style="left:571.34px;top:1434.75px;font-size:29px;line-height:32.40px;color:#000;transform:scaleX(1.0827)">giấy</div>
<div class="t" style="left:639.61px;top:1434.75px;font-size:29px;line-height:32.40px;color:#000;transform:scaleX(1.0894)">nhám</div>
<div class="dash" style="left:182px;top:376px;width:7.3px;height:3.8px"></div>
<div class="dash" style="left:181.9px;top:1416px;width:7.6px;height:3.9px"></div>
<div style="position:absolute;left:0;top:1683px;width:1191px;height:1px;background:#8a8a8a"></div>
<div style="position:absolute;left:0;top:1684px;width:592px;height:1px;background:#000"></div>
<div style="position:absolute;left:597px;top:1684px;width:1px;height:1px;background:#FFB000"></div>
<div style="position:absolute;left:598px;top:1684px;width:1px;height:1px;background:#0000FF"></div>
</body></html>
